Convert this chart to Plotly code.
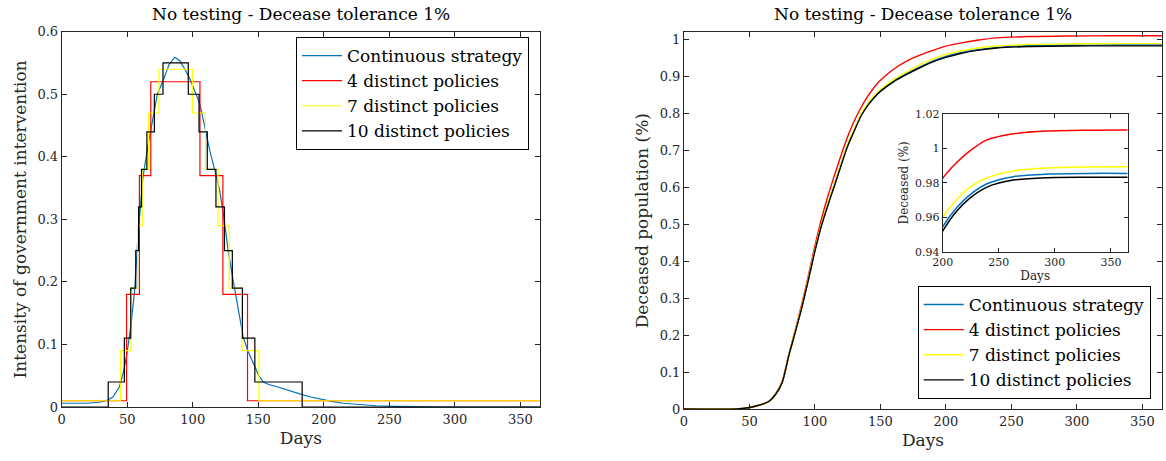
import plotly.graph_objects as go

# ---------------- Left panel: intervention intensity ----------------
cont_days = [0, 20, 30, 35, 39, 44, 47, 49.4, 52.7, 55.7, 58.3, 62, 66, 69.7, 73, 77.4, 82,
             86.3, 90, 94, 97.7, 101, 105.4, 109, 113, 117, 120.6, 124, 127, 131, 134.5,
             138.5, 142, 146, 150, 153.7, 158, 165, 172, 181.7, 190, 200, 207, 215, 225,
             240, 255, 275, 300, 365]
cont_vals = [0.006, 0.006, 0.008, 0.011, 0.016, 0.032, 0.055, 0.08, 0.128, 0.187, 0.277,
             0.367, 0.42, 0.463, 0.50, 0.522, 0.548, 0.559, 0.554, 0.54, 0.525, 0.508,
             0.485, 0.45, 0.41, 0.377, 0.346, 0.30, 0.25, 0.20, 0.16, 0.112, 0.09, 0.07,
             0.052, 0.040, 0.036, 0.032, 0.027, 0.021, 0.016, 0.011, 0.0085, 0.006, 0.004,
             0.002, 0.001, 0.0003, 0.0, 0.0]

p4_days = [0, 49.5, 59.3, 68.0, 105.5, 123.0, 141.8, 365]
p4_vals = [0.01, 0.18, 0.37, 0.52, 0.37, 0.18, 0.01, 0.01]

p7_days = [0, 44.9, 52.8, 57.9, 61.5, 66.3, 74.2, 99.7, 109.7, 119.3, 127.8, 137.6, 150.5, 365]
p7_vals = [0.01, 0.09, 0.19, 0.29, 0.38, 0.47, 0.54, 0.47, 0.38, 0.29, 0.19, 0.09, 0.01, 0.01]

p10_days = [0, 35.5, 47.8, 52.7, 56.5, 58.7, 60.9, 65.0, 70.7, 77.3, 96.6, 104.8, 111.1,
            117.7, 124.2, 130.2, 137.9, 147.4, 183.5, 365]
p10_vals = [0.0, 0.04, 0.11, 0.19, 0.25, 0.32, 0.38, 0.44, 0.50, 0.55, 0.50, 0.44, 0.38,
            0.32, 0.25, 0.19, 0.11, 0.04, 0.0, 0.0]

# ---------------- Right panel: deceased population ----------------
dec_days = [0, 40, 50, 55, 60, 65, 70, 75, 80, 85, 90, 95, 100, 105, 110, 115, 120, 125,
            130, 135, 140, 145, 150, 160, 170, 180, 190, 200, 212, 224, 239, 263, 293, 330, 365]
dec_cont = [0, 0, 0.004, 0.008, 0.013, 0.021, 0.040, 0.072, 0.145, 0.210, 0.276, 0.351,
            0.429, 0.498, 0.555, 0.608, 0.662, 0.714, 0.755, 0.794, 0.822, 0.844, 0.862,
            0.888, 0.908, 0.926, 0.942, 0.9545, 0.9652, 0.9729, 0.9793, 0.9836, 0.9851,
            0.9855, 0.9855]
dec_p4 = [0, 0, 0.004, 0.008, 0.013, 0.021, 0.041, 0.075, 0.147, 0.215, 0.285, 0.362,
          0.442, 0.515, 0.578, 0.634, 0.688, 0.738, 0.780, 0.815, 0.845, 0.870, 0.890,
          0.920, 0.942, 0.958, 0.971, 0.9826, 0.9915, 0.9984, 1.0048, 1.0085, 1.0101,
          1.0106, 1.0107]
dec_p7 = [0, 0, 0.004, 0.008, 0.013, 0.021, 0.040, 0.073, 0.146, 0.212, 0.279, 0.355,
          0.433, 0.502, 0.559, 0.612, 0.666, 0.718, 0.759, 0.798, 0.826, 0.848, 0.866,
          0.892, 0.913, 0.932, 0.948, 0.960, 0.970, 0.9774, 0.9828, 0.9869, 0.9886,
          0.9892, 0.9894]
dec_p10 = [0, 0, 0.004, 0.008, 0.013, 0.021, 0.040, 0.072, 0.144, 0.208, 0.275, 0.350,
           0.428, 0.497, 0.553, 0.606, 0.660, 0.712, 0.753, 0.792, 0.820, 0.842, 0.860,
           0.886, 0.906, 0.924, 0.940, 0.952, 0.9632, 0.971, 0.9774, 0.9816, 0.983,
           0.9832, 0.9832]

names = ["Continuous strategy", "4 distinct policies", "7 distinct policies", "10 distinct policies"]
colors = ["#0072BD", "#FF0000", "#FFFF00", "#000000"]

FONT = "DejaVu Serif"
AX = "#262626"

fig = go.Figure()

# left panel traces
left_series = [(cont_days, cont_vals, "linear"), (p4_days, p4_vals, "hv"),
               (p7_days, p7_vals, "hv"), (p10_days, p10_vals, "hv")]
for (d, v, shape), nm, c in zip(left_series, names, colors):
    fig.add_trace(go.Scatter(x=d, y=v, mode="lines", name=nm,
                             line=dict(color=c, width=1.2, shape=shape),
                             xaxis="x", yaxis="y", legend="legend"))

# right panel traces
right_series = [dec_cont, dec_p4, dec_p7, dec_p10]
for v, nm, c in zip(right_series, names, colors):
    fig.add_trace(go.Scatter(x=dec_days, y=v, mode="lines", name=nm,
                             line=dict(color=c, width=1.4, shape="spline", smoothing=0.8),
                             xaxis="x2", yaxis="y2", legend="legend2"))

# inset traces (zoom on the plateau)
for v, nm, c in zip(right_series, names, colors):
    fig.add_trace(go.Scatter(x=dec_days, y=v, mode="lines", name=nm, showlegend=False,
                             line=dict(color=c, width=1.5, shape="spline", smoothing=0.8),
                             xaxis="x3", yaxis="y3"))

W, H = 1166, 461


def px_x(p):
    return p / W


def px_y(p):
    return 1 - p / H


axis_common = dict(showline=True, linecolor=AX, linewidth=1, mirror="ticks",
                   ticks="inside", ticklen=5, tickcolor=AX, showgrid=False,
                   zeroline=False, automargin=False,
                   tickfont=dict(family=FONT, size=13, color=AX))
inset_common = {**axis_common, "tickfont": dict(family=FONT, size=11, color=AX), "ticklen": 4}

fig.update_layout(
    width=W, height=H,
    margin=dict(l=0, r=0, t=0, b=0, autoexpand=False),
    paper_bgcolor="white", plot_bgcolor="white",
    font=dict(family=FONT, color="#000000"),
    xaxis=dict(domain=[px_x(61.7), px_x(540)], range=[0, 365], anchor="y",
               tickvals=[0, 50, 100, 150, 200, 250, 300, 350],
               title=dict(text="Days", font=dict(family=FONT, size=17, color=AX), standoff=6),
               **axis_common),
    yaxis=dict(domain=[px_y(407), px_y(31.7)], range=[0, 0.6], anchor="x",
               tickvals=[0, 0.1, 0.2, 0.3, 0.4, 0.5, 0.6],
               ticktext=["0", "0.1", "0.2", "0.3", "0.4", "0.5", "0.6"],
               title=dict(text="Intensity of government intervention",
                          font=dict(family=FONT, size=17, color=AX), standoff=6),
               **axis_common),
    xaxis2=dict(domain=[px_x(684), px_x(1162)], range=[0, 365], anchor="y2",
                tickvals=[0, 50, 100, 150, 200, 250, 300, 350],
                title=dict(text="Days", font=dict(family=FONT, size=17, color=AX), standoff=6),
                **axis_common),
    yaxis2=dict(domain=[px_y(409), px_y(32.3)], range=[0, 1.02], anchor="x2",
                tickvals=[0, 0.1, 0.2, 0.3, 0.4, 0.5, 0.6, 0.7, 0.8, 0.9, 1],
                ticktext=["0", "0.1", "0.2", "0.3", "0.4", "0.5", "0.6", "0.7", "0.8", "0.9", "1"],
                title=dict(text="Deceased population (%)",
                           font=dict(family=FONT, size=17, color=AX), standoff=6),
                **axis_common),
    xaxis3=dict(domain=[px_x(942.7), px_x(1127.7)], range=[200, 365], anchor="y3",
                tickvals=[200, 250, 300, 350],
                title=dict(text="Days", font=dict(family=FONT, size=12, color=AX), standoff=3),
                **inset_common),
    yaxis3=dict(domain=[px_y(251.7), px_y(114)], range=[0.94, 1.02], anchor="x3",
                tickvals=[0.94, 0.96, 0.98, 1.0, 1.02],
                ticktext=["0.94", "0.96", "0.98", "1", "1.02"],
                title=dict(text="Deceased (%)", font=dict(family=FONT, size=12, color=AX), standoff=3),
                **inset_common),
    legend=dict(x=px_x(529), y=px_y(37), xanchor="right", yanchor="top",
                bgcolor="white", bordercolor="#000000", borderwidth=1,
                font=dict(family=FONT, size=17, color="#000000"), tracegroupgap=0,
                itemwidth=40),
    legend2=dict(x=px_x(1150.7), y=px_y(286), xanchor="right", yanchor="top",
                 bgcolor="white", bordercolor="#000000", borderwidth=1,
                 font=dict(family=FONT, size=17, color="#000000"), tracegroupgap=0,
                 itemwidth=40),
    annotations=[
        dict(text="No testing - Decease tolerance 1%", x=px_x(300.9), y=px_y(14),
             xref="paper", yref="paper", showarrow=False, xanchor="center", yanchor="middle",
             font=dict(family=FONT, size=17, color="#000000")),
        dict(text="No testing - Decease tolerance 1%", x=px_x(923), y=px_y(14),
             xref="paper", yref="paper", showarrow=False, xanchor="center", yanchor="middle",
             font=dict(family=FONT, size=17, color="#000000")),
    ],
)

fig.write_html("out.html")
